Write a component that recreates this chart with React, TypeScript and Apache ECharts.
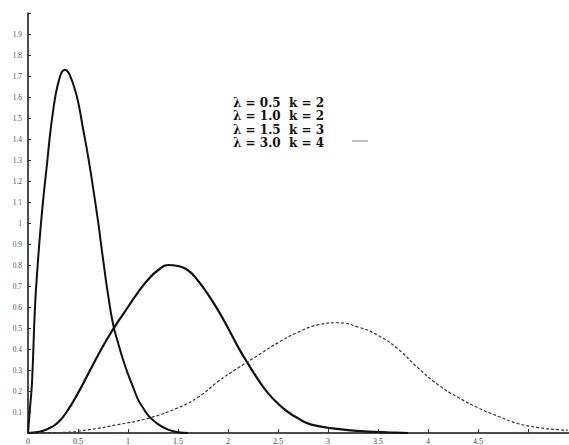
import React, { useEffect, useRef } from "react";
import * as echarts from "echarts";

// Curve 1: λ = 0.5, k = 2
const x1 = [0, 0.02, 0.04, 0.07, 0.1, 0.13, 0.16, 0.19, 0.22, 0.25, 0.28, 0.31, 0.34, 0.37, 0.4, 0.43, 0.46, 0.5, 0.55, 0.6, 0.65, 0.7, 0.75, 0.8, 0.85, 0.9, 0.95, 1.0, 1.05, 1.1, 1.15, 1.2, 1.3, 1.4, 1.5, 1.6];
const y1 = [0, 0.12, 0.24, 0.6, 0.82, 1.0, 1.15, 1.28, 1.42, 1.53, 1.62, 1.68, 1.72, 1.73, 1.72, 1.69, 1.65, 1.58, 1.45, 1.32, 1.17, 1.01, 0.83, 0.66, 0.52, 0.43, 0.35, 0.28, 0.22, 0.16, 0.12, 0.085, 0.042, 0.016, 0.004, 0];

// Curve 2: λ = 1.5, k = 3
const x2 = [0, 0.1, 0.2, 0.3, 0.4, 0.5, 0.6, 0.7, 0.8, 0.9, 1.0, 1.1, 1.2, 1.3, 1.4, 1.5, 1.6, 1.7, 1.8, 1.9, 2.0, 2.1, 2.2, 2.3, 2.4, 2.5, 2.6, 2.7, 2.8, 2.9, 3.0, 3.2, 3.4, 3.6, 3.8];
const y2 = [0, 0.004, 0.02, 0.05, 0.11, 0.19, 0.28, 0.37, 0.455, 0.53, 0.6, 0.67, 0.73, 0.775, 0.8, 0.795, 0.775, 0.725, 0.66, 0.585, 0.5, 0.41, 0.33, 0.255, 0.19, 0.14, 0.1, 0.07, 0.045, 0.033, 0.025, 0.014, 0.007, 0.003, 0];

// Curve 3: λ = 3.0, k = 4
const x3 = [0, 0.3, 0.6, 0.9, 1.2, 1.5, 1.7, 1.9, 2.1, 2.3, 2.5, 2.7, 2.9, 3.1, 3.3, 3.5, 3.7, 3.9, 4.1, 4.3, 4.5, 4.7, 4.9, 5.1, 5.3, 5.4];
const y3 = [0, 0.002, 0.015, 0.04, 0.07, 0.12, 0.17, 0.245, 0.31, 0.37, 0.43, 0.48, 0.515, 0.525, 0.505, 0.465, 0.4, 0.31, 0.23, 0.17, 0.12, 0.08, 0.045, 0.026, 0.016, 0.013];

const legendLines = ["λ = 0.5  k = 2", "λ = 1.0  k = 2", "λ = 1.5  k = 3", "λ = 3.0  k = 4"];

const pairs = (xs: number[], ys: number[]) => xs.map((x, i) => [x, ys[i]]);

export default function App() {
  const ref = useRef<HTMLDivElement>(null);
  useEffect(() => {
    if (!ref.current) return;
    const chart = echarts.init(ref.current, null, { renderer: "svg" });
    const font = "'Liberation Serif', 'DejaVu Serif', serif";
    chart.setOption({
      animation: false,
      backgroundColor: "#ffffff",
      grid: { left: 28, right: 0, top: 13, bottom: 12, containLabel: false },
      xAxis: {
        type: "value",
        min: 0,
        max: 5.41,
        interval: 0.5,
        splitLine: { show: false },
        axisLine: { show: true, lineStyle: { color: "#111", width: 1.5 } },
        axisTick: { show: true, inside: true, length: 4, lineStyle: { color: "#333" } },
        axisLabel: {
          showMaxLabel: false,
          margin: 4,
          fontSize: 8,
          fontFamily: font,
          color: "#444",
          formatter: (v: number) => (v > 4.6 ? "" : String(Math.round(v * 10) / 10)),
        },
      },
      yAxis: {
        type: "value",
        min: 0,
        max: 2,
        interval: 0.1,
        splitLine: { show: false },
        axisLine: { show: true, lineStyle: { color: "#111", width: 1.5 } },
        axisTick: { show: true, inside: true, length: 3, lineStyle: { color: "#333" } },
        axisLabel: {
          margin: 6,
          fontSize: 7.5,
          fontFamily: font,
          color: "#555",
          formatter: (v: number) => {
            const r = Math.round(v * 10) / 10;
            return r === 0 || r >= 2 ? "" : String(r);
          },
        },
      },
      series: [
        {
          type: "line",
          smooth: true,
          showSymbol: false,
          data: pairs(x1, y1),
          lineStyle: { color: "#111", width: 2 },
        },
        {
          type: "line",
          smooth: true,
          showSymbol: false,
          data: pairs(x2, y2),
          lineStyle: { color: "#111", width: 2.2 },
        },
        {
          type: "line",
          smooth: true,
          showSymbol: false,
          data: pairs(x3, y3),
          lineStyle: { color: "#333", width: 1.2, type: [3, 2] },
        },
      ],
      graphic: [
        ...legendLines.map((t, i) => ({
          type: "text",
          left: 233,
          top: 97 + i * 13.4,
          style: {
            text: t,
            fontSize: 12,
            lineHeight: 12,
            fontWeight: "bold",
            fontFamily: "'DejaVu Serif', serif",
            fill: "#111",
          },
        })),
        {
          type: "line",
          shape: { x1: 352, y1: 141, x2: 368, y2: 141 },
          style: { stroke: "#888", lineWidth: 1 },
        },
      ],
    });
    return () => chart.dispose();
  }, []);
  return (
    <div
      ref={ref}
      style={{ position: "fixed", left: 0, top: 0, width: 569, height: 445, background: "#fff" }}
    />
  );
}
